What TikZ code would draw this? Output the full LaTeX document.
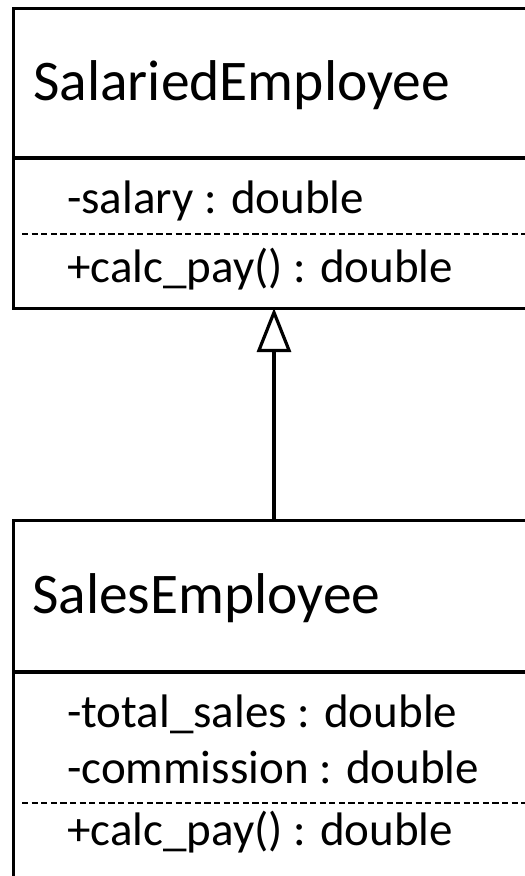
\documentclass[tikz,border=0pt]{standalone}
\usepackage{fontspec}
\setmainfont{Carlito}
\usetikzlibrary{arrows.meta}
\begin{document}
\begin{tikzpicture}[x=1pt,y=1pt,
  classbox/.style={draw,line width=3.2pt,anchor=north west,inner sep=0pt,minimum width=560pt},
  classname/.style={anchor=base west,inner sep=0pt,font=\fontsize{57.5}{64}\selectfont},
  member/.style={anchor=base west,inner sep=0pt,font=\fontsize{47}{54}\selectfont},
  divider/.style={line width=3.2pt},
  opsep/.style={line width=2.8pt,dash pattern=on 6.2pt off 3.4pt},
  inherit/.style={line width=3.2pt,-{Triangle[open,length=44pt,width=34pt,line width=3.2pt]}}]
\clip (0,0) rectangle (525,-876);
\useasboundingbox (0,0) rectangle (525,-876);

% SalariedEmployee class
\node[classbox,minimum height=300pt] (salaried) at (12,-7) {};
\node[classname] (salname) at (33,-100) {SalariedEmployee};
\draw[divider] (12,-158) -- ++(560,0);
\node[member] (salattr) at (67,-213) {-salary : double};
\draw[opsep] (22,-234) -- ++(560,0);
\node[member] (salop) at (67,-282) {+calc\_pay() : double};

% SalesEmployee class
\node[classbox,minimum height=420pt] (sales) at (12,-519) {};
\node[classname] (salesname) at (32,-613) {SalesEmployee};
\draw[divider] (12,-672) -- ++(560,0);
\node[member] (salesattr1) at (67,-727) {-total\_sales : double};
\node[member] (salesattr2) at (67,-783) {-commission : double};
\draw[opsep] (22,-803) -- ++(560,0);
\node[member] (salesop) at (67,-845) {+calc\_pay() : double};

% generalization arrow
\coordinate (gtip) at (274,-308);
\draw[inherit] (sales.north -| gtip) -- (gtip);
\end{tikzpicture}
\end{document}
